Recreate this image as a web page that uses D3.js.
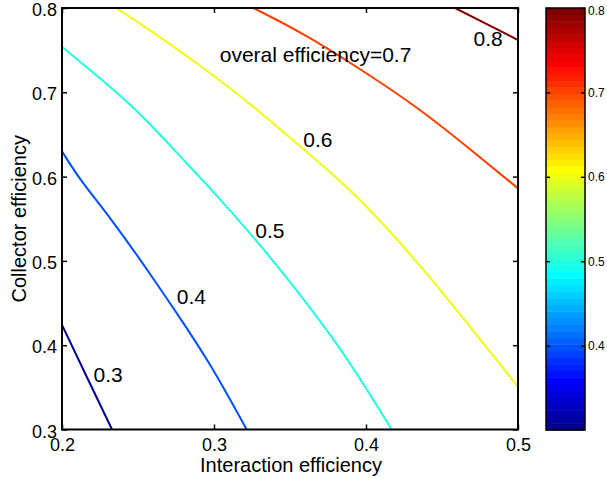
<!DOCTYPE html>
<html>
<head>
<meta charset="utf-8">
<script src="https://cdn.jsdelivr.net/npm/d3@7"></script>
<style>
  body { margin: 0; background: #fff; }
  svg { display: block; font-family: "Liberation Sans", Arial, sans-serif; }
</style>
</head>
<body>
<svg width="607" height="479"></svg>
<script>
// contour levels of the overall efficiency
const levels = [0.3, 0.4, 0.5, 0.6, 0.7, 0.8];

// contour lines: [interaction efficiency, collector efficiency]
const line03 = [[0.2, 0.424], [0.2164, 0.362], [0.2329, 0.3]];
const line04 = [[0.2, 0.630], [0.2118, 0.596], [0.2316, 0.552], [0.2579, 0.485], [0.2755, 0.438], [0.2974, 0.379], [0.3215, 0.3]];
const line05 = [[0.2, 0.754], [0.2382, 0.697], [0.2557, 0.667], [0.2798, 0.620], [0.2974, 0.5865], [0.3259, 0.529], [0.3566, 0.4607], [0.3783, 0.4085], [0.3974, 0.357], [0.4169, 0.3]];
const line06 = [[0.2355, 0.8], [0.2579, 0.774], [0.2908, 0.732], [0.3237, 0.687], [0.3566, 0.636], [0.3829, 0.596], [0.4092, 0.549], [0.4421, 0.481], [0.4684, 0.422], [0.5, 0.351]];
const line07 = [[0.3259, 0.8], [0.361, 0.768], [0.4005, 0.7225], [0.4334, 0.683], [0.4663, 0.636], [0.5, 0.586]];
const line08 = [[0.4586, 0.8], [0.5, 0.762]];
const contourLines = [line03, line04, line05, line06, line07, line08];

// inline labels
const labelText = ["0.3", "0.4", "0.5", "0.6", "overal efficiency=0.7", "0.8"];
const labelPos = [[0.2303, 0.365], [0.2851, 0.458], [0.3368, 0.536], [0.3684, 0.644], [0.3668, 0.745], [0.4803, 0.764]];

// axis ticks
const xTicks = [0.2, 0.3, 0.4, 0.5];
const yTicks = [0.3, 0.4, 0.5, 0.6, 0.7, 0.8];
const cbTicks = [0.4, 0.5, 0.6, 0.7, 0.8];

const svg = d3.select("svg");

const plot = { left: 62, top: 8, right: 518, bottom: 429.5 };
const x = d3.scaleLinear().domain([0.2, 0.5]).range([plot.left, plot.right]);
const y = d3.scaleLinear().domain([0.3, 0.8]).range([plot.bottom, plot.top]);

// matlab jet(64)
function jet64(i) { // i = 1..64
  const u = k => (k < 1 || k > 47) ? 0 : (k <= 16 ? k / 16 : (k <= 31 ? 1 : (48 - k) / 16));
  const r = u(i - 24), g = u(i - 8), b = u(i + 8);
  return d3.rgb(r * 255, g * 255, b * 255).toString();
}
const cmin = 0.3, cmax = 0.8;
function colorOf(v) {
  let idx = Math.floor((v - cmin) / (cmax - cmin) * 64 + 1e-9) + 1;
  return jet64(Math.max(1, Math.min(64, idx)));
}

svg.append("defs").append("clipPath").attr("id", "clip")
  .append("rect")
  .attr("x", plot.left).attr("y", plot.top)
  .attr("width", plot.right - plot.left).attr("height", plot.bottom - plot.top);

// contour lines
const line = d3.line().x(d => x(d[0])).y(d => y(d[1])).curve(d3.curveBasis);
svg.append("g").attr("clip-path", "url(#clip)")
  .selectAll("path")
  .data(contourLines)
  .enter().append("path")
  .attr("d", line)
  .attr("fill", "none")
  .attr("stroke", (d, i) => colorOf(levels[i]))
  .attr("stroke-width", 2);

// labels
svg.append("g")
  .selectAll("text")
  .data(labelText)
  .enter().append("text")
  .attr("x", (d, i) => x(labelPos[i][0]))
  .attr("y", (d, i) => y(labelPos[i][1]))
  .attr("dy", "0.36em")
  .attr("text-anchor", "middle")
  .attr("font-size", 21)
  .text(d => d);

// axes
const xAxis = svg.append("g").attr("transform", `translate(0,${plot.bottom})`)
  .call(d3.axisBottom(x).tickValues(xTicks).tickFormat(d3.format(".1f")).tickSizeInner(-5).tickSizeOuter(0).tickPadding(9));
const yAxis = svg.append("g").attr("transform", `translate(${plot.left},0)`)
  .call(d3.axisLeft(y).tickValues(yTicks).tickFormat(d3.format(".1f")).tickSizeInner(-5).tickSizeOuter(0).tickPadding(5));
svg.append("g").attr("transform", `translate(0,${plot.top})`)
  .call(d3.axisTop(x).tickValues(xTicks).tickFormat("").tickSizeInner(-5).tickSizeOuter(0));
svg.append("g").attr("transform", `translate(${plot.right},0)`)
  .call(d3.axisRight(y).tickValues(yTicks).tickFormat("").tickSizeInner(-5).tickSizeOuter(0));

svg.selectAll(".domain").remove();
svg.selectAll(".tick line").attr("stroke", "#000").attr("stroke-width", 1.5);
svg.selectAll(".tick text").attr("font-size", 18).attr("fill", "#000").attr("font-family", null);
yAxis.selectAll(".tick text").attr("dy", "0.42em");

svg.append("rect")
  .attr("x", plot.left).attr("y", plot.top)
  .attr("width", plot.right - plot.left).attr("height", plot.bottom - plot.top)
  .attr("fill", "none").attr("stroke", "#000").attr("stroke-width", 2);

// axis titles
svg.append("text")
  .attr("x", (plot.left + plot.right) / 2 + 1).attr("y", 472)
  .attr("text-anchor", "middle").attr("font-size", 20)
  .text("Interaction efficiency");
svg.append("text")
  .attr("transform", `translate(26,${(plot.top + plot.bottom) / 2}) rotate(-90)`)
  .attr("text-anchor", "middle").attr("font-size", 20)
  .text("Collector efficiency");

// colorbar
const cb = { left: 546, right: 585, top: 8, bottom: 430 };
const cy = d3.scaleLinear().domain([cmin, cmax]).range([cb.bottom, cb.top]);
const bands = d3.range(1, 65);
svg.append("g")
  .selectAll("rect")
  .data(bands)
  .enter().append("rect")
  .attr("x", cb.left)
  .attr("y", i => cy(cmin + i / 64 * (cmax - cmin)))
  .attr("width", cb.right - cb.left)
  .attr("height", i => cy(cmin + (i - 1) / 64 * (cmax - cmin)) - cy(cmin + i / 64 * (cmax - cmin)) + 0.5)
  .attr("fill", i => jet64(i));

const cbAxisR = svg.append("g").attr("transform", `translate(${cb.right},0)`)
  .call(d3.axisRight(cy).tickValues(cbTicks).tickFormat(d3.format(".1f")).tickSizeInner(-4).tickSizeOuter(0).tickPadding(3));
svg.append("g").attr("transform", `translate(${cb.left},0)`)
  .call(d3.axisLeft(cy).tickValues(cbTicks).tickFormat("").tickSizeInner(-4).tickSizeOuter(0));
svg.selectAll(".domain").remove();
svg.selectAll(".tick line").attr("stroke", "#000").attr("stroke-width", 1.5);
cbAxisR.selectAll(".tick text").attr("font-size", 12).attr("fill", "#000").attr("font-family", null)
  .attr("dy", (d, i) => d === 0.8 ? "0.5em" : "0.32em");
svg.append("rect")
  .attr("x", cb.left).attr("y", cb.top)
  .attr("width", cb.right - cb.left).attr("height", cb.bottom - cb.top)
  .attr("fill", "none").attr("stroke", "#000").attr("stroke-width", 1.5);
</script>
</body>
</html>
